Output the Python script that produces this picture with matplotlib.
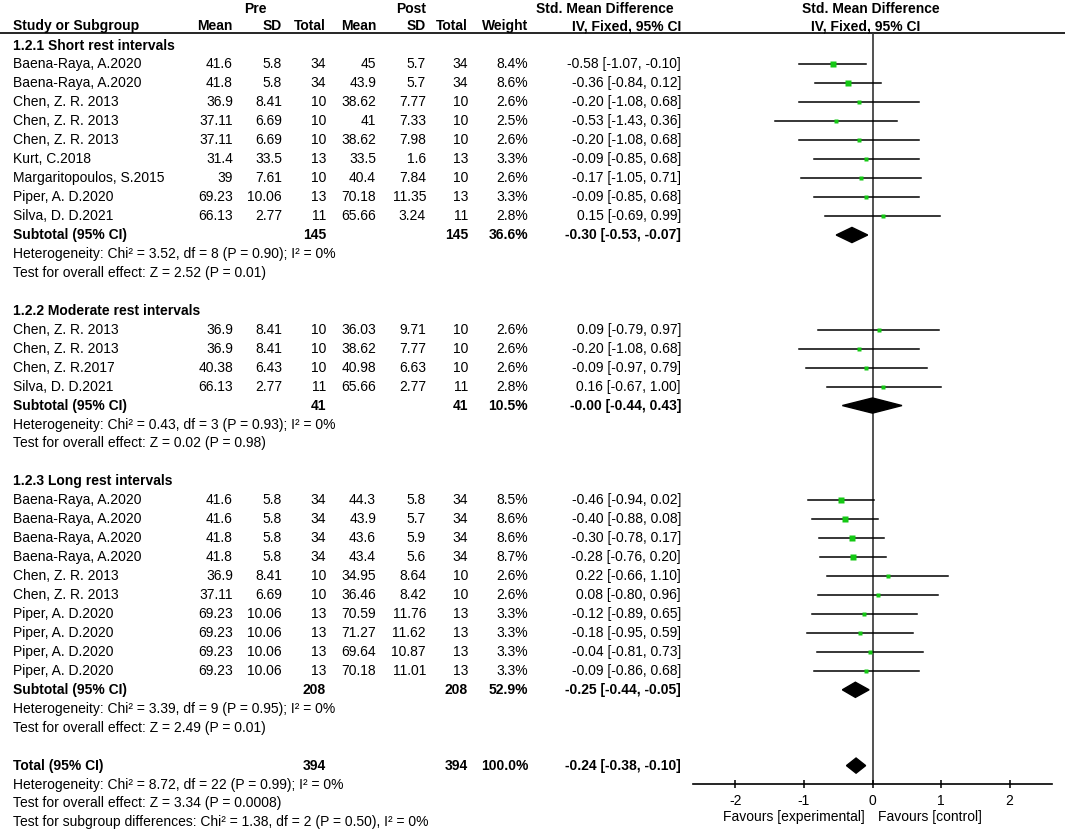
import matplotlib.pyplot as plt
from matplotlib.patches import Polygon
import numpy as np

plt.rcParams['font.family'] = ['Liberation Sans', 'DejaVu Sans']
FS = 10

# 1.2.1 Short rest intervals
short_names = ["Baena-Raya, A.2020", "Baena-Raya, A.2020", "Chen, Z. R. 2013", "Chen, Z. R. 2013",
               "Chen, Z. R. 2013", "Kurt, C.2018", "Margaritopoulos, S.2015", "Piper, A. D.2020",
               "Silva, D. D.2021"]
short_pre_mean = [41.6, 41.8, 36.9, 37.11, 37.11, 31.4, 39, 69.23, 66.13]
short_pre_sd = [5.8, 5.8, 8.41, 6.69, 6.69, 33.5, 7.61, 10.06, 2.77]
short_pre_n = [34, 34, 10, 10, 10, 13, 10, 13, 11]
short_post_mean = [45, 43.9, 38.62, 41, 38.62, 33.5, 40.4, 70.18, 65.66]
short_post_sd = [5.7, 5.7, 7.77, 7.33, 7.98, 1.6, 7.84, 11.35, 3.24]
short_post_n = [34, 34, 10, 10, 10, 13, 10, 13, 11]
short_weight = [8.4, 8.6, 2.6, 2.5, 2.6, 3.3, 2.6, 3.3, 2.8]
short_smd = [-0.58, -0.36, -0.20, -0.53, -0.20, -0.09, -0.17, -0.09, 0.15]
short_lo = [-1.07, -0.84, -1.08, -1.43, -1.08, -0.85, -1.05, -0.85, -0.69]
short_hi = [-0.10, 0.12, 0.68, 0.36, 0.68, 0.68, 0.71, 0.68, 0.99]
short_sub = [145, 145, 36.6, -0.30, -0.53, -0.07]
short_het = "Heterogeneity: Chi\u00b2 = 3.52, df = 8 (P = 0.90); I\u00b2 = 0%"
short_test = "Test for overall effect: Z = 2.52 (P = 0.01)"

# 1.2.2 Moderate rest intervals
mod_names = ["Chen, Z. R. 2013", "Chen, Z. R. 2013", "Chen, Z. R.2017", "Silva, D. D.2021"]
mod_pre_mean = [36.9, 36.9, 40.38, 66.13]
mod_pre_sd = [8.41, 8.41, 6.43, 2.77]
mod_pre_n = [10, 10, 10, 11]
mod_post_mean = [36.03, 38.62, 40.98, 65.66]
mod_post_sd = [9.71, 7.77, 6.63, 2.77]
mod_post_n = [10, 10, 10, 11]
mod_weight = [2.6, 2.6, 2.6, 2.8]
mod_smd = [0.09, -0.20, -0.09, 0.16]
mod_lo = [-0.79, -1.08, -0.97, -0.67]
mod_hi = [0.97, 0.68, 0.79, 1.00]
mod_sub = [41, 41, 10.5, -0.0, -0.44, 0.43]
mod_het = "Heterogeneity: Chi\u00b2 = 0.43, df = 3 (P = 0.93); I\u00b2 = 0%"
mod_test = "Test for overall effect: Z = 0.02 (P = 0.98)"

# 1.2.3 Long rest intervals
long_names = ["Baena-Raya, A.2020"] * 4 + ["Chen, Z. R. 2013"] * 2 + ["Piper, A. D.2020"] * 4
long_pre_mean = [41.6, 41.6, 41.8, 41.8, 36.9, 37.11, 69.23, 69.23, 69.23, 69.23]
long_pre_sd = [5.8, 5.8, 5.8, 5.8, 8.41, 6.69, 10.06, 10.06, 10.06, 10.06]
long_pre_n = [34, 34, 34, 34, 10, 10, 13, 13, 13, 13]
long_post_mean = [44.3, 43.9, 43.6, 43.4, 34.95, 36.46, 70.59, 71.27, 69.64, 70.18]
long_post_sd = [5.8, 5.7, 5.9, 5.6, 8.64, 8.42, 11.76, 11.62, 10.87, 11.01]
long_post_n = [34, 34, 34, 34, 10, 10, 13, 13, 13, 13]
long_weight = [8.5, 8.6, 8.6, 8.7, 2.6, 2.6, 3.3, 3.3, 3.3, 3.3]
long_smd = [-0.46, -0.40, -0.30, -0.28, 0.22, 0.08, -0.12, -0.18, -0.04, -0.09]
long_lo = [-0.94, -0.88, -0.78, -0.76, -0.66, -0.80, -0.89, -0.95, -0.81, -0.86]
long_hi = [0.02, 0.08, 0.17, 0.20, 1.10, 0.96, 0.65, 0.59, 0.73, 0.68]
long_sub = [208, 208, 52.9, -0.25, -0.44, -0.05]
long_het = "Heterogeneity: Chi\u00b2 = 3.39, df = 9 (P = 0.95); I\u00b2 = 0%"
long_test = "Test for overall effect: Z = 2.49 (P = 0.01)"

# overall
total_sub = [394, 394, 100.0, -0.24, -0.38, -0.10]
total_lines = ["Heterogeneity: Chi\u00b2 = 8.72, df = 22 (P = 0.99); I\u00b2 = 0%",
               "Test for overall effect: Z = 3.34 (P = 0.0008)",
               "Test for subgroup differences: Chi\u00b2 = 1.38, df = 2 (P = 0.50), I\u00b2 = 0%"]

xticks = [-2, -1, 0, 1, 2]

groups = [
    ("1.2.1 Short rest intervals", short_names, short_pre_mean, short_pre_sd, short_pre_n,
     short_post_mean, short_post_sd, short_post_n, short_weight, short_smd, short_lo, short_hi,
     short_sub, short_het, short_test),
    ("1.2.2 Moderate rest intervals", mod_names, mod_pre_mean, mod_pre_sd, mod_pre_n,
     mod_post_mean, mod_post_sd, mod_post_n, mod_weight, mod_smd, mod_lo, mod_hi,
     mod_sub, mod_het, mod_test),
    ("1.2.3 Long rest intervals", long_names, long_pre_mean, long_pre_sd, long_pre_n,
     long_post_mean, long_post_sd, long_post_n, long_weight, long_smd, long_lo, long_hi,
     long_sub, long_het, long_test),
]

W, H = 1065, 834
ROW0, DY = 45.5, 18.95
NAME_X = 13
COLS = [233, 282, 326, 376, 426, 468, 528, 681]   # right edges of the columns
GREEN = '#14c814'
DH = 0.4   # diamond half height in rows
LINE_Y = 33


def ypix(r):
    return ROW0 + DY * r


def ci_text(e, l, h):
    return '{:.2f} [{:.2f}, {:.2f}]'.format(e, l, h)


fig = plt.figure(figsize=(W / 100, H / 100), dpi=100)
tx = fig.add_axes([0, 0, 1, 1])
tx.set_xlim(0, W)
tx.set_ylim(H, 0)
tx.axis('off')

ax = fig.add_axes([693 / W, 1 - 784 / H, (1052 - 693) / W, (784 - LINE_Y) / H])
ax.set_xlim(-2.62, 2.62)
ax.set_ylim((784 - ROW0) / DY, (LINE_Y - ROW0) / DY)
ax.patch.set_alpha(0)


def put(x, r, s, ha='right', bold=False):
    tx.text(x, ypix(r), s, ha=ha, va='center', fontsize=FS,
            fontweight='bold' if bold else 'normal')


# header
hy1, hy2 = 8.5, 26
tx.text(255, hy1, 'Pre', ha='center', va='center', fontsize=FS, fontweight='bold')
tx.text(411, hy1, 'Post', ha='center', va='center', fontsize=FS, fontweight='bold')
tx.text(605, hy1, 'Std. Mean Difference', ha='center', va='center', fontsize=FS, fontweight='bold')
tx.text(871, hy1, 'Std. Mean Difference', ha='center', va='center', fontsize=FS, fontweight='bold')
tx.text(NAME_X, hy2, 'Study or Subgroup', ha='left', va='center', fontsize=FS, fontweight='bold')
for x, s in zip(COLS, ['Mean', 'SD', 'Total', 'Mean', 'SD', 'Total', 'Weight', 'IV, Fixed, 95% CI']):
    tx.text(x, hy2, s, ha='right', va='center', fontsize=FS, fontweight='bold')
tx.text(866, hy2, 'IV, Fixed, 95% CI', ha='center', va='center', fontsize=FS, fontweight='bold')
tx.plot([0, W], [LINE_Y, LINE_Y], color='black', lw=1.2)

r = 0
for (title, names, pm, psd, pn, qm, qsd, qn, wt, smd, lo, hi, sub, het, test) in groups:
    put(NAME_X, r, title, ha='left', bold=True)
    r += 1
    for i in range(len(names)):
        put(NAME_X, r, names[i], ha='left')
        vals = ['{:g}'.format(pm[i]), '{:g}'.format(psd[i]), str(pn[i]),
                '{:g}'.format(qm[i]), '{:g}'.format(qsd[i]), str(qn[i]),
                '{:.1f}%'.format(wt[i]), ci_text(smd[i], lo[i], hi[i])]
        for x, s in zip(COLS, vals):
            put(x, r, s)
        ax.plot([lo[i], hi[i]], [r, r], color='black', lw=1.1, zorder=2)
        ax.plot(smd[i], r, 's', ms=0.72 * 1.9 * np.sqrt(wt[i]), color=GREEN, mec='none', zorder=3)
        r += 1
    put(NAME_X, r, 'Subtotal (95% CI)', ha='left', bold=True)
    put(COLS[2], r, str(sub[0]), bold=True)
    put(COLS[5], r, str(sub[1]), bold=True)
    put(COLS[6], r, '{:.1f}%'.format(sub[2]), bold=True)
    put(COLS[7], r, ci_text(sub[3], sub[4], sub[5]), bold=True)
    ax.add_patch(Polygon([[sub[4], r], [sub[3], r - DH], [sub[5], r], [sub[3], r + DH]],
                         closed=True, fc='black', ec='black', zorder=3))
    r += 1
    put(NAME_X, r, het, ha='left')
    r += 1
    put(NAME_X, r, test, ha='left')
    r += 2

put(NAME_X, r, 'Total (95% CI)', ha='left', bold=True)
put(COLS[2], r, str(total_sub[0]), bold=True)
put(COLS[5], r, str(total_sub[1]), bold=True)
put(COLS[6], r, '{:.1f}%'.format(total_sub[2]), bold=True)
put(COLS[7], r, ci_text(total_sub[3], total_sub[4], total_sub[5]), bold=True)
ax.add_patch(Polygon([[total_sub[4], r], [total_sub[3], r - DH], [total_sub[5], r],
                      [total_sub[3], r + DH]], closed=True, fc='black', ec='black', zorder=3))
for s in total_lines:
    r += 1
    put(NAME_X, r, s, ha='left')

ax.axvline(0, color='#333333', lw=1.2, zorder=1)
for side in ['top', 'right', 'left']:
    ax.spines[side].set_visible(False)
ax.spines['bottom'].set_linewidth(1.2)
ax.set_yticks([])
ax.set_xticks(xticks)
ax.set_xticklabels([str(t) for t in xticks])
ax.tick_params(axis='x', direction='inout', length=8 * 0.72, width=1.1, pad=4.5, labelsize=FS)

tx.text(865, 817, 'Favours [experimental]', ha='right', va='center', fontsize=FS)
tx.text(878, 817, 'Favours [control]', ha='left', va='center', fontsize=FS)

fig.savefig('out.png', dpi=100)
